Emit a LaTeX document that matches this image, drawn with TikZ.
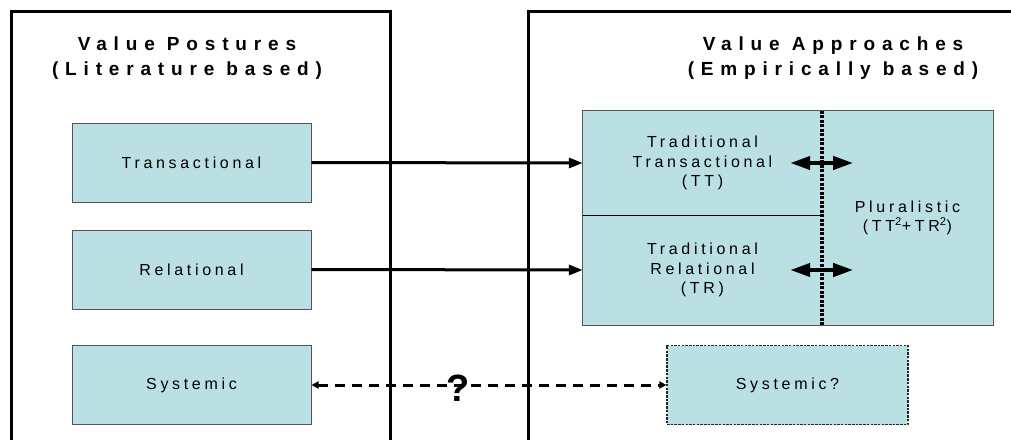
\documentclass[tikz,border=0pt]{standalone}
\usepackage{fontspec}
\setmainfont{Liberation Sans}
\newfontfamily\headfont[LetterSpace=36]{Liberation Sans}
\newfontfamily\labelfont[LetterSpace=23]{Liberation Sans}
\usetikzlibrary{arrows.meta}
\definecolor{boxfill}{RGB}{186,224,228}
\definecolor{boxedge}{RGB}{85,85,85}

\begin{document}
\begin{tikzpicture}[x=1pt,y=-1pt,
  panel/.style={line width=3pt},
  heading/.style={font=\headfont\bfseries\fontsize{19}{25}\selectfont,
    align=center, inner sep=0pt},
  labeltext/.style={font=\labelfont\fontsize{16}{19.5}\selectfont,
    align=center, inner sep=0pt},
  posture/.style={labeltext, draw=boxedge, line width=1pt, fill=boxfill,
    minimum width=239pt, minimum height=79pt},
  cell/.style={labeltext, fill=boxfill},
  link/.style={line width=3pt, -{Triangle[length=14pt,width=10pt]}},
  maybe/.style={line width=3pt, dash pattern=on 10pt off 7pt,
    {Triangle[length=7pt,width=7pt]}-{Triangle[length=7pt,width=7pt]}},
  exchange/.style={line width=4pt,
    {Triangle[length=20pt,width=13pt]}-{Triangle[length=20pt,width=13pt]}},
  seam/.style={line width=3.5pt, dash pattern=on 3pt off 1.5pt},
]
\useasboundingbox (0,0) rectangle (1011,439);

% the two framing panels, open at the bottom
\draw[panel] (11,445) -- (11,11) -- (390,11) -- (390,445);
\draw[panel] (528,445) -- (528,11) -- (1015,11);

% headings
\node[heading] (headL) at (187,58) {Value Postures\\(Literature based)};
\node[heading] (headR) at (833,58) {Value Approaches\\(Empirically based)};

% value postures
\node[posture] (trans) at (191.5,162.5) {Transactional};
\node[posture] (rel)   at (191.5,269.5) {Relational};
\node[posture] (sysL)  at (191.5,385)   {Systemic};

% value approaches
\node[cell, minimum width=239pt, minimum height=104pt] (tt) at (702.5,163)
  {Traditional\\Transactional\\(TT)};
\node[cell, minimum width=239pt, minimum height=110pt] (tr) at (702.5,270)
  {Traditional\\Relational\\(TR)};
\node[cell, minimum width=171pt, minimum height=214pt] (plu) at (907.5,218)
  {Pluralistic\\(TT\textsuperscript{2}+TR\textsuperscript{2})};
\draw[boxedge, line width=1pt] (tt.north west) rectangle (plu.south east);
\draw[line width=1pt] (tt.south west) -- (tt.south east);
\draw[seam] (tt.north east) -- (tr.south east);

\node[posture, draw=black!85, line width=1.2pt, dash pattern=on 2.5pt off 1.2pt,
  minimum width=241pt] (sysR) at (787.5,385) {Systemic?};

% links between postures and approaches
\draw[link] (trans.east) -- (tt.west);
\draw[link] (rel.east) -- (tr.west);
\draw[maybe] (sysL.east) -- (sysR.west);
\node[font=\bfseries\fontsize{38}{38}\selectfont, inner sep=0pt, anchor=base]
  (qm) at (458,401) {?};

% movement across the seam towards the pluralistic approach
\coordinate (ttA) at ([xshift=-32pt]tt.east);
\coordinate (ttB) at ([xshift=31pt]tt.east);
\coordinate (trA) at ([xshift=-32pt]tr.east);
\coordinate (trB) at ([xshift=31pt]tr.east);
\draw[exchange] (ttA) -- (ttB);
\draw[exchange] (trA) -- (trB);
\end{tikzpicture}
\end{document}
